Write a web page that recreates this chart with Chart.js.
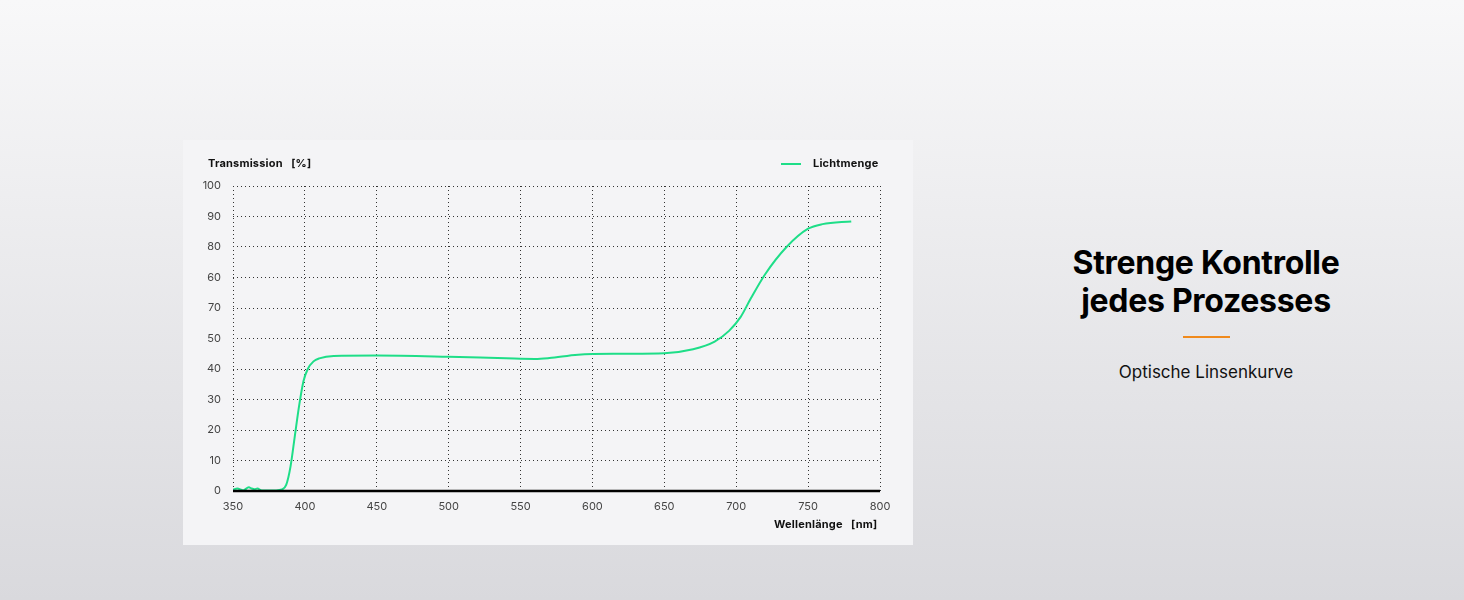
<!DOCTYPE html>
<html><head><meta charset="utf-8">
<script src="https://cdn.jsdelivr.net/npm/chart.js@4"></script>
<style>
body{margin:0;width:1464px;height:600px;overflow:hidden;background:linear-gradient(#f8f8f9,#d9d9dd);font-family:Inter,"Open Sans",sans-serif;position:relative}
#card{position:absolute;left:183px;top:140px;width:730px;height:405px;background:#f4f4f6}
#wrap{position:absolute;left:0;top:0;width:730px;height:405px}
.lab{position:absolute;font-size:11px;font-weight:700;color:#111;letter-spacing:0.2px}
#right{position:absolute;left:1006px;width:400px;top:244px;text-align:center;color:#000}
#right h1{margin:0;font-size:32px;line-height:38px;font-weight:700;letter-spacing:-0.3px}
#right .bar{width:47px;height:2px;background:#f08a1c;margin:16px auto 0}
#right p{margin:24px 0 0;font-size:17px;font-weight:400;color:#111}
</style></head><body>
<div id="card">
<div id="wrap"><canvas id="c"></canvas></div>
<div class="lab" style="left:25px;top:16px">Transmission&nbsp;&nbsp;&nbsp;[%]</div>
<div class="lab" style="left:598px;top:16px"><span style="display:inline-block;width:20px;height:2px;background:#1ede88;vertical-align:middle;margin-right:12px"></span>Lichtmenge</div>
<div class="lab" style="left:591px;top:377px">Wellenlänge&nbsp;&nbsp;&nbsp;[nm]</div>
</div>
<div id="right"><h1>Strenge Kontrolle<br>jedes Prozesses</h1><div class="bar"></div><p>Optische Linsenkurve</p></div>
<script>
const wavelength=[350,353,357,361,363,365,367,370,375,380,384,387,390,393,396,399,402,406,410,420,450,500,540,560,570,590,620,650,670,685,695,703,710,720,735,750,760,780]
const transmission=[0.5,0.8,0.2,1.2,0.8,0.6,0.8,0.2,0.2,0.2,0.5,2,8,18,28,36,40,42.5,43.5,44.3,44.4,44,43.5,43.3,43.6,44.7,45,45.2,46.5,49,52.5,57,63,71,80,86,87.5,88.4]
const yTickLabels=["0","10","20","30","40","50","70","60","80","90","100"]
const xTickLabels=["350","400","450","500","550","600","650","700","750","800"]

const grid={color:"#333",lineWidth:1,drawTicks:false}
const border={display:false,dash:[1,3]}
new Chart(document.getElementById("c"),{
type:"scatter",
data:{datasets:[{label:"Lichtmenge",data:wavelength.map((x,i)=>({x:x,y:transmission[i]})),showLine:true,borderColor:"#1ede88",borderWidth:2,pointRadius:0,cubicInterpolationMode:"monotone"}]},
options:{responsive:true,maintainAspectRatio:false,animation:false,
layout:{padding:{top:46,right:33,left:0,bottom:0}},
plugins:{legend:{display:false},tooltip:{enabled:false}},
scales:{
x:{type:"linear",min:350,max:800,afterFit:s=>{s.height=54},
grid:grid,border:border,
ticks:{stepSize:50,padding:9,color:"#444",font:{size:11,family:"Inter"},callback:(v,i)=>xTickLabels[i]}},
y:{min:0,max:100,afterFit:s=>{s.width=50},
grid:grid,border:border,
ticks:{stepSize:10,padding:12,color:"#444",font:{size:11,family:"Inter"},callback:(v,i)=>yTickLabels[i]}}
}},
plugins:[{id:"baseline",afterDatasetsDraw(c){const a=c.chartArea,x=c.ctx;x.save();x.strokeStyle="#000";x.lineWidth=2.5;x.beginPath();x.moveTo(a.left,a.bottom);x.lineTo(a.right,a.bottom);x.stroke();x.restore()}}]
})
</script>
</body></html>
